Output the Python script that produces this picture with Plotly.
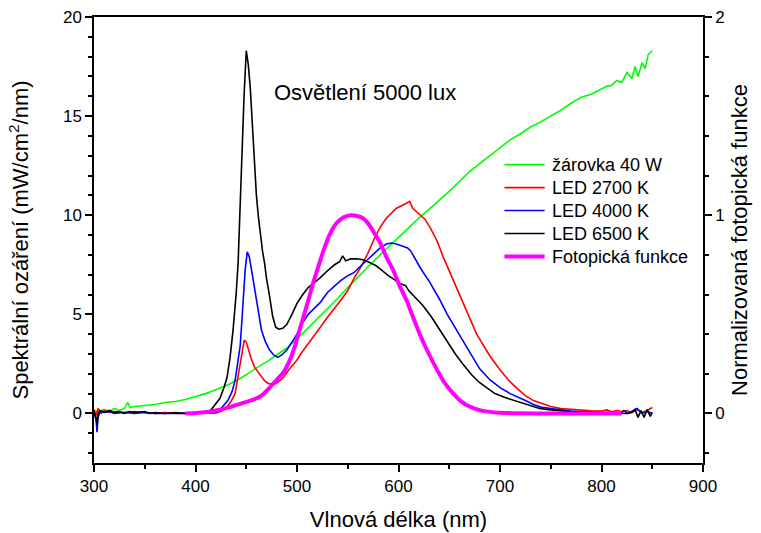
import plotly.graph_objects as go

# Wavelengths (nm) and spectral irradiance (mW/cm^2/nm) for each source
zar_nm = [300, 305, 310, 315, 320, 325, 330, 333, 336, 340, 350, 360, 370, 380, 390,
          400, 410, 420, 430, 440, 450, 460, 470, 480, 490, 500, 510, 520, 530, 540,
          550, 560, 570, 580, 590, 600, 610, 620, 630, 640, 650, 660, 670, 680, 690,
          700, 710, 720, 730, 740, 750, 760, 770, 780, 790, 800, 805, 810, 815, 820,
          825, 830, 833, 836, 840, 843, 846, 850]
zar_val = [0.15, 0.1, 0.2, 0.1, 0.25, 0.15, 0.25, 0.55, 0.3, 0.35, 0.4, 0.45, 0.55, 0.6, 0.7,
           0.85, 1.0, 1.2, 1.4, 1.65, 1.95, 2.3, 2.6, 2.95, 3.3, 3.75, 4.25, 4.8, 5.3, 5.8,
           6.35, 6.9, 7.4, 7.9, 8.4, 8.9, 9.4, 9.85, 10.3, 10.75, 11.2, 11.7, 12.2, 12.6, 13.0,
           13.4, 13.8, 14.1, 14.45, 14.7, 15.0, 15.3, 15.65, 15.95, 16.1, 16.35, 16.5, 16.55, 16.8, 16.7,
           17.2, 16.9, 17.5, 17.0, 17.7, 17.4, 18.1, 18.3]

led2700_nm = [300, 302, 304, 307, 310, 315, 320, 330, 340, 350, 360, 370, 380, 390, 400, 410,
              420, 425, 430, 435, 439, 442, 445, 448, 450, 452, 455, 458, 462, 465, 468, 472,
              476, 479, 483, 487, 492, 496, 500, 505, 511, 517, 523, 530, 537, 543, 550, 556,
              563, 570, 576, 582, 588, 594, 598, 604, 608, 611, 614, 618, 622, 626, 632, 638,
              644, 650, 657, 663, 670, 677, 683, 690, 700, 708, 717, 725, 733, 742, 750, 760,
              770, 780, 790, 800, 805, 810, 815, 820, 825, 830, 835, 840, 845, 850]
led2700_val = [0.2, -0.1, 0.25, 0.0, 0.15, 0.05, 0.1, 0.05, 0.1, 0.05, 0.0, 0.05, 0.0, 0.0, 0.0, 0.0,
               0.02, 0.1, 0.25, 0.6, 1.0, 1.9, 2.9, 3.7, 3.6, 3.2, 2.75, 2.35, 2.05, 1.83, 1.65, 1.5,
               1.48, 1.5, 1.65, 1.85, 2.2, 2.45, 2.7, 3.1, 3.5, 3.95, 4.35, 4.85, 5.3, 5.7, 6.2, 6.8,
               7.4, 8.1, 8.8, 9.4, 9.85, 10.15, 10.35, 10.5, 10.6, 10.7, 10.35, 10.15, 10.0, 9.8, 9.3, 8.7,
               7.9, 7.2, 6.3, 5.6, 4.8, 4.0, 3.5, 2.9, 2.2, 1.7, 1.25, 0.9, 0.65, 0.48, 0.35, 0.25,
               0.2, 0.15, 0.13, 0.12, 0.18, 0.08, 0.15, 0.1, 0.15, 0.05, 0.2, 0.05, 0.15, 0.3]

led4000_nm = [300, 302, 303, 304, 306, 310, 315, 320, 330, 340, 350, 360, 370, 380, 390, 400,
              410, 416, 421, 426, 432, 436, 439, 442, 444, 446, 447, 449, 451, 453, 455, 458,
              460, 463, 465, 469, 473, 477, 481, 485, 490, 495, 500, 506, 511, 517, 523, 530,
              537, 543, 550, 556, 563, 570, 576, 582, 588, 593, 598, 603, 609, 612, 616, 622,
              631, 640, 648, 656, 664, 672, 680, 690, 700, 710, 717, 725, 733, 740, 750, 760,
              770, 780, 790, 800, 810, 818, 822, 826, 830, 835, 840, 845, 850]
led4000_val = [0.0, -0.3, -0.95, -0.2, 0.1, 0.05, 0.1, 0.0, 0.05, 0.0, 0.05, 0.0, 0.0, 0.0, 0.0, 0.0,
               0.0, 0.03, 0.07, 0.3, 0.66, 1.1, 1.67, 2.6, 3.4, 4.9, 5.9, 7.3, 8.15, 7.9, 7.3, 6.4,
               5.6, 4.8, 4.2, 3.6, 3.2, 2.95, 2.83, 2.95, 3.2, 3.6, 4.0, 4.6, 5.0, 5.3, 5.6, 6.1,
               6.45, 6.7, 6.95, 7.1, 7.45, 7.8, 8.1, 8.35, 8.55, 8.6, 8.55, 8.45, 8.35, 8.2, 7.85, 7.3,
               6.6, 5.8, 5.0, 4.3, 3.6, 2.9, 2.25, 1.7, 1.3, 1.0, 0.85, 0.65, 0.45, 0.32, 0.25, 0.18,
               0.12, 0.08, 0.06, 0.05, 0.03, -0.05, 0.15, 0.0, 0.1, 0.25, 0.0, 0.1, 0.0]

led6500_nm = [300, 302, 303, 304, 306, 310, 315, 320, 325, 330, 335, 340, 350, 355, 360, 370,
              380, 390, 400, 410, 414, 419, 424, 428, 431, 434, 437, 440, 442, 444, 446, 448,
              450, 452, 454, 456, 458, 460, 462, 464, 466, 468, 470, 473, 476, 479, 482, 486,
              490, 495, 500, 505, 511, 517, 523, 530, 537, 542, 545, 548, 553, 559, 565, 572,
              578, 584, 590, 596, 600, 604, 607, 610, 617, 624, 632, 640, 648, 656, 664, 672,
              680, 688, 695, 705, 717, 728, 739, 750, 766, 780, 800, 815, 825, 830, 833, 836,
              839, 842, 845, 848, 850]
led6500_val = [0.1, -0.2, -0.6, 0.0, 0.15, 0.05, 0.15, 0.05, 0.1, 0.0, 0.1, 0.05, 0.1, 0.0, 0.05, 0.0,
               0.05, 0.0, 0.0, 0.03, 0.1, 0.4, 0.75, 1.3, 1.8, 2.8, 4.2, 6.0, 7.6, 10.5, 13.5, 16.2,
               18.3, 17.6, 16.4, 14.6, 12.8, 11.0, 9.9, 8.9, 8.2, 7.6, 6.8, 5.9, 4.9, 4.35, 4.25, 4.3,
               4.5, 5.0, 5.55, 5.95, 6.35, 6.6, 6.85, 7.2, 7.5, 7.65, 7.95, 7.7, 7.8, 7.8, 7.75, 7.6,
               7.45, 7.2, 6.95, 6.75, 6.6, 6.5, 6.45, 6.2, 5.85, 5.45, 4.9, 4.25, 3.65, 3.0, 2.45, 1.95,
               1.55, 1.25, 1.0, 0.8, 0.6, 0.4, 0.25, 0.18, 0.1, 0.07, 0.05, 0.02, 0.0, 0.05, 0.2, -0.2,
               0.15, -0.2, 0.2, -0.15, 0.05]

# Normalized photopic luminosity function (right axis)
foto_nm = [390, 400, 411, 420, 434, 445, 457, 465, 473, 480, 487, 493, 498, 503, 510, 516,
           521, 526, 532, 539, 546, 553, 560, 565, 569, 575, 582, 588, 595, 601, 608, 614,
           621, 629, 638, 646, 654, 662, 670, 680, 690, 700, 720, 750, 780, 820]
foto_val = [0.0, 0.002, 0.007, 0.015, 0.032, 0.05, 0.07, 0.09, 0.13, 0.17, 0.21, 0.27, 0.34, 0.43, 0.55, 0.66,
            0.74, 0.82, 0.9, 0.96, 0.99, 1.0, 0.995, 0.985, 0.965, 0.92, 0.86, 0.79, 0.72, 0.645, 0.57, 0.49,
            0.40, 0.31, 0.22, 0.15, 0.10, 0.06, 0.035, 0.017, 0.008, 0.004, 0.001, 0.0, 0.0, 0.0]

FONT = "Liberation Sans, Arial, sans-serif"

series = [
    ("žárovka 40 W", zar_nm, zar_val, "#00ff00", 1.6, "y"),
    ("LED 2700 K", led2700_nm, led2700_val, "#ff0000", 1.6, "y"),
    ("LED 4000 K", led4000_nm, led4000_val, "#0000ff", 1.6, "y"),
    ("LED 6500 K", led6500_nm, led6500_val, "#000000", 1.6, "y"),
    ("Fotopická funkce", foto_nm, foto_val, "#ff00ff", 4, "y2"),
]

fig = go.Figure()
for name, xs, ys, col, w, ax in series:
    line = dict(color=col, width=w)
    if ax == "y2":
        line.update(shape="spline", smoothing=0.6)
    fig.add_trace(go.Scatter(x=xs, y=ys, mode="lines", name=name, yaxis=ax,
                             line=line, showlegend=False))

# Compact key drawn inside the plot area, one row per series
key_x0, key_x1, key_text_x = 0.674, 0.740, 0.748   # fractions of the plot width
key_top, key_step = 0.669, 0.0515                    # fractions of the plot height
for i, (name, _, _, col, w, _) in enumerate(series):
    yk = key_top - i * key_step
    fig.add_shape(type="line", xref="paper", yref="paper", x0=key_x0, x1=key_x1,
                  y0=yk, y1=yk, line=dict(color=col, width=w))
    fig.add_annotation(x=key_text_x, y=yk, xref="paper", yref="paper", text=name,
                       xanchor="left", yanchor="middle", showarrow=False,
                       font=dict(family=FONT, size=18, color="black"))

fig.add_annotation(x=567, y=16.2, xref="x", yref="y", text="Osvětlení 5000 lux",
                   showarrow=False, font=dict(family=FONT, size=22, color="black"))

axis_common = dict(showgrid=False, zeroline=False, showline=True, linecolor="black",
                   linewidth=1.5, ticks="outside", ticklen=7, tickwidth=1.5, tickcolor="black",
                   automargin=False,
                   tickfont=dict(family=FONT, size=17, color="black"))

fig.update_layout(
    width=761, height=533,
    margin=dict(l=94, r=58, t=17, b=70),
    paper_bgcolor="white", plot_bgcolor="white",
    showlegend=False,
    xaxis=dict(range=[300, 900], dtick=100, tick0=300, mirror=True,
               title=dict(text="Vlnová délka (nm)", font=dict(family=FONT, size=22, color="black"),
                          standoff=16),
               minor=dict(dtick=50, ticklen=4, ticks="outside", tickwidth=1.5, tickcolor="black"),
               **axis_common),
    yaxis=dict(range=[-2.5, 20], dtick=5, tick0=0,
               title=dict(text="Spektrální ozáření (mW/cm<sup>2</sup>/nm)",
                          font=dict(family=FONT, size=22, color="black"), standoff=28),
               minor=dict(dtick=1, ticklen=4, ticks="outside", tickwidth=1.5, tickcolor="black"),
               **axis_common),
    yaxis2=dict(range=[-0.25, 2.0], dtick=1, tick0=0, overlaying="y", side="right",
                title=dict(text="Normalizovaná fotopická funkce",
                           font=dict(family=FONT, size=22, color="black"), standoff=8),
                minor=dict(dtick=0.2, ticklen=4, ticks="outside", tickwidth=1.5, tickcolor="black"),
                **axis_common),
)

fig.write_html("out.html")
